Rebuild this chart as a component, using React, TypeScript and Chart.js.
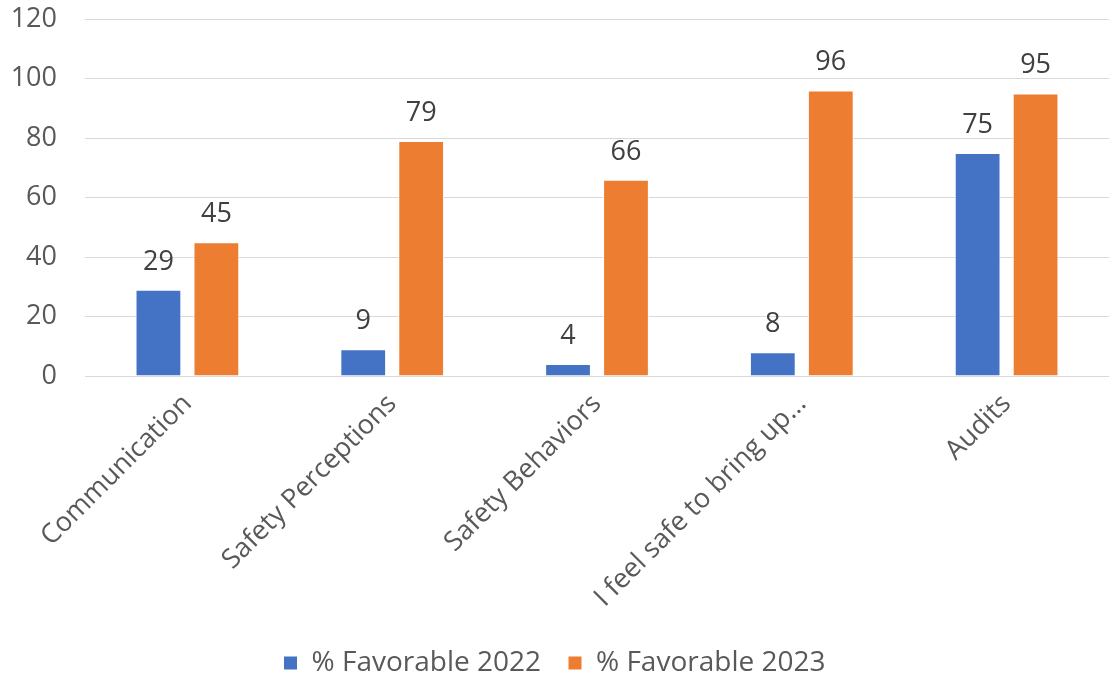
import React, { useEffect, useRef } from "react";
import { Chart, registerables } from "chart.js";

Chart.register(...registerables);

const categories = [
  "Communication",
  "Safety Perceptions",
  "Safety Behaviors",
  "I feel safe to bring up…",
  "Audits",
];
const fav2022 = [29, 9, 4, 8, 75];
const fav2023 = [45, 79, 66, 96, 95];
const seriesNames = ["% Favorable 2022", "% Favorable 2023"];
const yTicks = [0, 20, 40, 60, 80, 100, 120];

const FONT = "'Open Sans', 'Noto Sans', sans-serif";
const FS = 27;

const dataLabelPlugin = {
  id: "dataLabels",
  afterDatasetsDraw(chart: any) {
    const ctx = chart.ctx;
    ctx.save();
    ctx.font = `${FS}px ${FONT}`;
    ctx.fillStyle = "#404040";
    ctx.textAlign = "center";
    ctx.textBaseline = "alphabetic";
    chart.data.datasets.forEach((ds: any, di: number) => {
      const meta = chart.getDatasetMeta(di);
      meta.data.forEach((bar: any, i: number) => {
        ctx.fillText(String(ds.data[i]), bar.x, bar.y - 20);
      });
    });
    ctx.restore();
  },
};

export default function App() {
  const ref = useRef<HTMLCanvasElement>(null);
  useEffect(() => {
    document.body.style.margin = "0";
    const chart = new Chart(ref.current!, {
      type: "bar",
      data: {
        labels: categories,
        datasets: [
          {
            label: seriesNames[0],
            data: fav2022,
            backgroundColor: "#4472C4",
            borderColor: "#ffffff",
            borderWidth: 1,
          },
          {
            label: seriesNames[1],
            data: fav2023,
            backgroundColor: "#ED7D31",
            borderColor: "#ffffff",
            borderWidth: 1,
          },
        ],
      },
      options: {
        animation: false,
        responsive: false,
        maintainAspectRatio: false,
        layout: { padding: { top: 0, right: 3, left: 0, bottom: -10 } },
        datasets: {
          bar: { categoryPercentage: 0.566, barPercentage: 0.79 },
        },
        plugins: {
          tooltip: { enabled: false },
          legend: {
            position: "bottom",
            labels: {
              boxWidth: 14,
              boxHeight: 14,
              padding: 27,
              color: "#595959",
              font: { size: 28, family: FONT },
            },
          },
        },
        scales: {
          x: {
            grid: { display: false },
            border: { display: false },
            ticks: {
              color: "#595959",
              font: { size: FS, family: FONT },
              minRotation: 45,
              maxRotation: 45,
              autoSkip: false,
              padding: 4,
            },
            afterFit(scale: any) {
              scale.height = 246;
            },
          },
          y: {
            min: 0,
            max: 120,
            afterBuildTicks(scale: any) {
              scale.ticks = yTicks.map((v) => ({ value: v }));
            },
            grid: { color: "#D9D9D9", lineWidth: 1, drawTicks: false },
            border: { display: false },
            ticks: {
              color: "#595959",
              font: { size: FS, family: FONT },
              padding: 28,
            },
            afterFit(scale: any) {
              scale.width = 85;
              scale.paddingTop = 19;
              scale.paddingBottom = 0;
            },
          },
        },
      },
      plugins: [dataLabelPlugin],
    });
    return () => chart.destroy();
  }, []);
  return (
    <div style={{ position: "absolute", left: 0, top: 0, width: 1112, height: 677 }}>
      <canvas ref={ref} width={1112} height={677} />
    </div>
  );
}
